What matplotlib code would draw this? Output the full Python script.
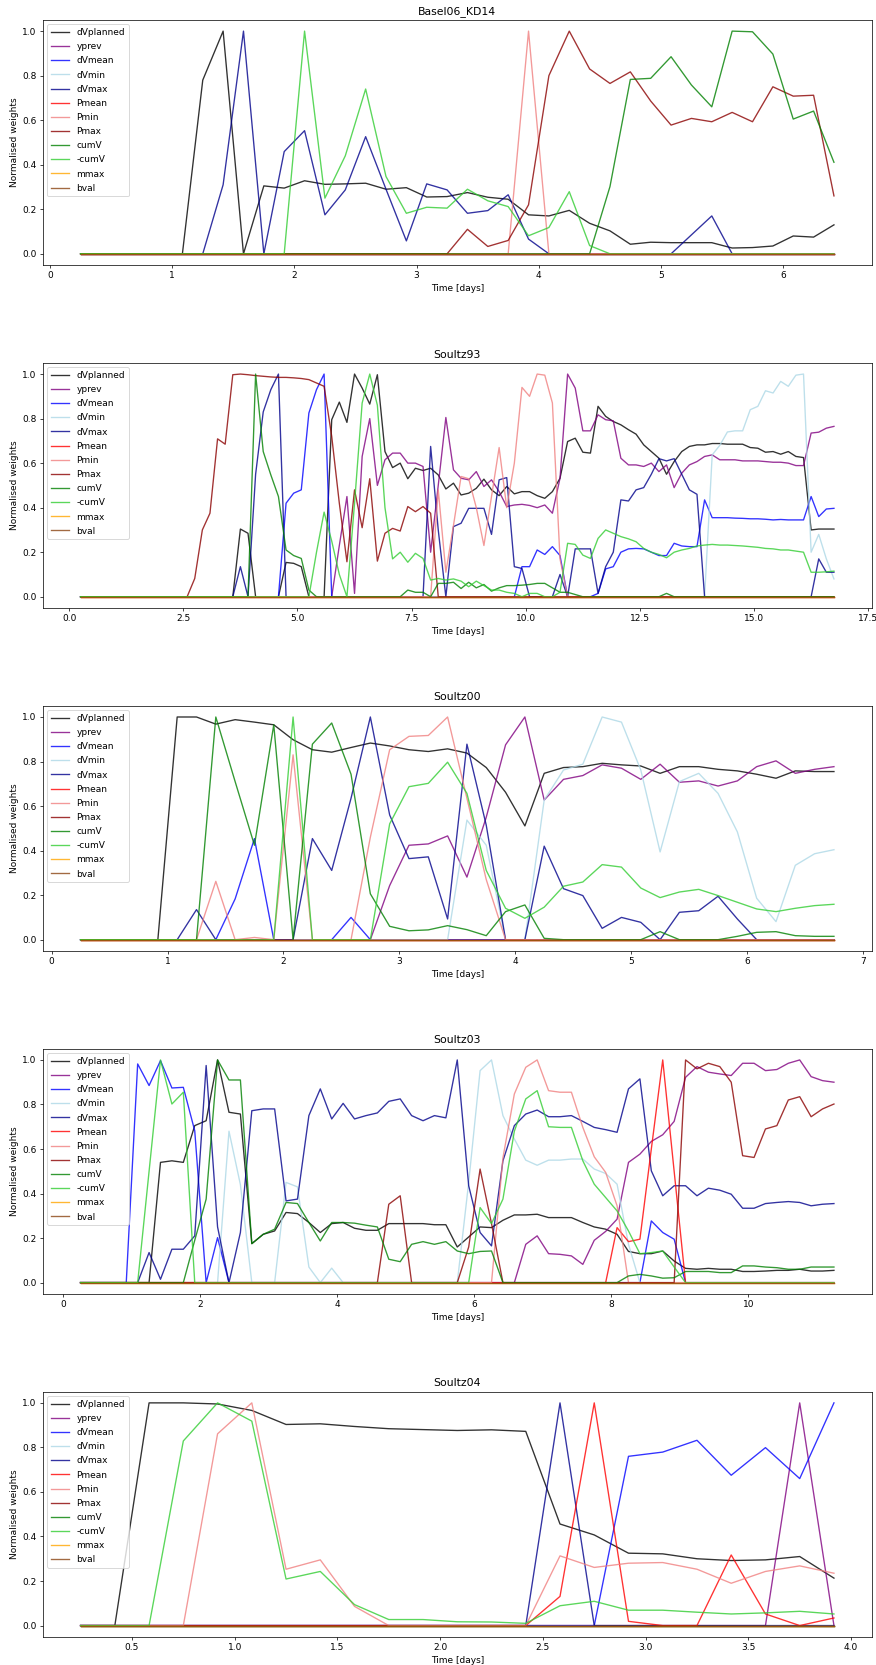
import matplotlib.pyplot as plt
import numpy as np

labels = ['dVplanned', 'yprev', 'dVmean', 'dVmin', 'dVmax', 'Pmean', 'Pmin',
          'Pmax', 'cumV', '-cumV', 'mmax', 'bval']
colors = ['k', 'purple', 'blue', 'lightblue', 'darkblue', 'red', 'lightcoral',
          'darkred', 'green', 'limegreen', 'orange', 'saddlebrown']
titles = ['Basel06_KD14', 'Soultz93', 'Soultz00', 'Soultz03', 'Soultz04']

# weights are sampled every 4 hours starting at 6h
t_start = 0.25
t_step = 1 / 6

# ---- Basel06_KD14 (38 samples)
p1_dvplanned = [0]*6 + [0.78, 1.0, 0.0, 0.305, 0.295, 0.328, 0.312, 0.314, 0.317, 0.29, 0.297, 0.255, 0.257,
                        0.275, 0.254, 0.245, 0.175, 0.17, 0.195, 0.137, 0.103, 0.043, 0.052, 0.05, 0.05, 0.05,
                        0.026, 0.028, 0.035, 0.08, 0.075, 0.13]
p1_yprev = [0]*38
p1_dvmean = [0]*38
p1_dvmin = [0]*38
p1_dvmax = [0]*7 + [0.31, 1.0, 0.0, 0.459, 0.553, 0.175, 0.287, 0.526, 0.29, 0.058, 0.314, 0.287, 0.182,
                    0.194, 0.265, 0.066, 0.0] + [0]*6 + [0.085, 0.17] + [0]*6
p1_pmean = [0]*38
p1_pmin = [0]*22 + [1.0] + [0]*15
p1_pmax = [0]*19 + [0.11, 0.033, 0.06, 0.22, 0.80, 1.0, 0.83, 0.765, 0.817, 0.686, 0.578, 0.608, 0.593,
                    0.635, 0.593, 0.75, 0.708, 0.712, 0.26]
p1_cumv = [0]*26 + [0.302, 0.783, 0.788, 0.885, 0.758, 0.66, 1.0, 0.997, 0.897, 0.605, 0.641, 0.411]
p1_ncumv = [0]*11 + [1.0, 0.25, 0.44, 0.74, 0.347, 0.182, 0.209, 0.205, 0.29, 0.238, 0.212, 0.081, 0.118,
                     0.279, 0.037] + [0]*12
p1_mmax = [0]*38
p1_bval = [0]*38

# ---- Soultz93 (100 samples)
p2_dvplanned = [0]*21 + [0.304, 0.285] + [0]*4 + [0.154, 0.15, 0.135] + [0]*3 + [
    0.795, 0.874, 0.783, 1.0, 0.937, 0.865, 0.997, 0.652, 0.58, 0.60, 0.53, 0.577, 0.567, 0.577, 0.547,
    0.484, 0.51, 0.457, 0.465, 0.487, 0.528, 0.48, 0.454, 0.495, 0.462, 0.472, 0.472, 0.454, 0.442, 0.472,
    0.532, 0.697, 0.712, 0.649, 0.645, 0.855, 0.81, 0.787, 0.772, 0.75, 0.73, 0.682, 0.652, 0.622, 0.55,
    0.607, 0.652, 0.675, 0.682, 0.682, 0.688, 0.688, 0.685, 0.685, 0.685, 0.67, 0.667, 0.649, 0.652, 0.64,
    0.652, 0.63, 0.625, 0.30, 0.304, 0.304, 0.304]
p2_yprev = [0]*34 + [
    0.23, 0.45, 0.015, 0.63, 0.80, 0.50, 0.615, 0.645, 0.645, 0.60, 0.60, 0.585, 0.2, 0.5, 0.805, 0.57,
    0.532, 0.525, 0.562, 0.495, 0.525, 0.472, 0.405, 0.412, 0.415, 0.41, 0.40, 0.412, 0.375, 0.532, 1.0,
    0.937, 0.745, 0.745, 0.817, 0.795, 0.79, 0.622, 0.592, 0.592, 0.585, 0.60, 0.562, 0.592, 0.49, 0.555,
    0.592, 0.607, 0.63, 0.637, 0.615, 0.615, 0.615, 0.61, 0.61, 0.61, 0.607, 0.604, 0.604, 0.60, 0.589,
    0.589, 0.735, 0.739, 0.757, 0.765]
p2_dvmean = [0]*27 + [0.42, 0.465, 0.48, 0.825, 0.93, 1.0] + [0]*25 + [0.135, 0.135, 0.21, 0.19, 0.225, 0.185] + [0]*4 + [
    0.015, 0.125, 0.135, 0.2, 0.215, 0.217, 0.215, 0.2, 0.185, 0.185, 0.24, 0.228, 0.225, 0.225, 0.435,
    0.355, 0.355, 0.355, 0.353, 0.352, 0.35, 0.35, 0.348, 0.345, 0.347, 0.345, 0.345, 0.345, 0.45, 0.36,
    0.394, 0.397]
p2_dvmin = [0]*83 + [0.637, 0.68, 0.74, 0.745, 0.745, 0.84, 0.855, 0.925, 0.915, 0.967, 0.945, 0.995, 1.0,
                     0.2, 0.28, 0.17, 0.08]
p2_dvmax = [0]*21 + [0.135, 0.0, 0.55, 0.83, 0.93, 1.0] + [0]*19 + [
    0.675, 0.3, 0.0, 0.315, 0.33, 0.397, 0.397, 0.397, 0.28, 0.525, 0.535, 0.135, 0.127, 0, 0, 0, 0, 0.1, 0,
    0.215, 0.215, 0.215, 0.015, 0.135, 0.2, 0.435, 0.43, 0.48, 0.49, 0.55, 0.62, 0.61, 0.62, 0.55, 0.48,
    0.46] + [0]*15 + [0.17, 0.11, 0.11]
p2_pmean = [0]*100
p2_pmin = [0]*47 + [0.48, 0.11, 0.32, 0.54, 0.53, 0.40, 0.23, 0.45, 0.67, 0.40, 0.60, 0.94, 0.90, 1.0,
                    0.995, 0.87, 0.17] + [0]*36
p2_pmax = [0]*15 + [
    0.082, 0.30, 0.375, 0.709, 0.685, 0.997, 1.0, 0.997, 0.993, 0.99, 0.987, 0.985, 0.985, 0.983, 0.98,
    0.975, 0.96, 0.945, 0.72, 0.42, 0.157, 0.48, 0.31, 0.53, 0.16, 0.285, 0.307, 0.295, 0.405, 0.382,
    0.405, 0.375] + [0]*53
p2_cumv = [0]*23 + [1.0, 0.652, 0.547, 0.45, 0.21, 0.185, 0.172, 0.03] + [0]*12 + [
    0.03, 0.02, 0.02, 0.0, 0.06, 0.06, 0.065, 0.037, 0.065, 0.04, 0.055, 0.025, 0.04, 0.05, 0.05, 0.052,
    0.055, 0.06, 0.06, 0.04, 0.02, 0.02, 0.01] + [0]*11 + [0.015] + [0]*22
p2_ncumv = [0]*31 + [
    0.2, 0.38, 0.25, 0.1, 0.0, 0.42, 0.87, 1.0, 0.86, 0.4, 0.17, 0.2, 0.155, 0.195, 0.172, 0.075, 0.082,
    0.075, 0.08, 0.07, 0.045, 0.07, 0.05, 0.03, 0.03, 0.02, 0.015, 0.0, 0.015, 0.015, 0.0, 0.0, 0.02, 0.24,
    0.235, 0.187, 0.172, 0.262, 0.30, 0.285, 0.27, 0.26, 0.247, 0.217, 0.2, 0.19, 0.175, 0.2, 0.21, 0.217,
    0.228, 0.232, 0.235, 0.232, 0.232, 0.23, 0.228, 0.225, 0.222, 0.217, 0.215, 0.21, 0.21, 0.205, 0.2,
    0.11, 0.11, 0.112, 0.115]
p2_mmax = [0]*100
p2_bval = [0]*100

# ---- Soultz00 (40 samples)
p3_dvplanned = [0]*5 + [1.0, 1.0, 0.968, 0.988, 0.977, 0.965, 0.898, 0.853, 0.842, 0.863, 0.883, 0.87, 0.853,
                        0.845, 0.857, 0.838, 0.773, 0.662, 0.511, 0.747, 0.773, 0.777, 0.792, 0.785, 0.78,
                        0.747, 0.777, 0.777, 0.765, 0.758, 0.743, 0.725, 0.758, 0.755, 0.755]
p3_yprev = [0]*16 + [0.243, 0.424, 0.43, 0.466, 0.281, 0.55, 0.875, 1.0, 0.627, 0.72, 0.737, 0.785, 0.77,
                     0.72, 0.788, 0.707, 0.713, 0.69, 0.713, 0.777, 0.803, 0.747, 0.765, 0.777]
p3_dvmean = [0]*8 + [0.183, 0.454] + [0]*4 + [0.1] + [0]*25
p3_dvmin = [0]*20 + [0.537, 0.424, 0.0, 0.0, 0.627, 0.762, 0.788, 1.0, 0.977, 0.762, 0.394, 0.71, 0.747,
                     0.657, 0.484, 0.186, 0.081, 0.334, 0.386, 0.404]
p3_dvmax = [0]*6 + [0.135] + [0]*5 + [0.454, 0.311, 0.635, 1.0, 0.56, 0.364, 0.372, 0.093, 0.878, 0.514,
                                      0.0, 0.0, 0.42, 0.229, 0.198, 0.051, 0.1, 0.078, 0.0, 0.123, 0.13,
                                      0.195, 0.093] + [0]*5
p3_pmean = [0]*40
p3_pmin = [0]*7 + [0.262, 0.0, 0.01, 0.0, 0.83] + [0]*3 + [0.46, 0.853, 0.913, 0.917, 1.0, 0.635, 0.27] + [0]*18
p3_pmax = [0]*40
p3_cumv = [0]*7 + [1.0, 0.71, 0.424, 0.965, 0.0, 0.878, 0.973, 0.743, 0.206, 0.06, 0.04, 0.044, 0.063,
                   0.045, 0.018, 0.126, 0.156, 0.006] + [0]*5 + [0.036] + [0]*3 + [0.015, 0.033, 0.036,
                                                                               0.018, 0.015, 0.015]
p3_ncumv = [0]*11 + [1.0] + [0]*4 + [0.52, 0.687, 0.702, 0.797, 0.657, 0.311, 0.141, 0.096, 0.146, 0.24,
                                     0.259, 0.337, 0.326, 0.232, 0.189, 0.214, 0.226, 0.198, 0.168, 0.138,
                                     0.126, 0.141, 0.153, 0.159]
p3_mmax = [0]*40
p3_bval = [0]*40

# ---- Soultz03 (67 samples)
p4_dvplanned = [0]*7 + [
    0.54, 0.547, 0.54, 0.705, 0.727, 1.0, 0.765, 0.757, 0.175, 0.217, 0.232, 0.315, 0.31, 0.27, 0.225,
    0.265, 0.27, 0.244, 0.235, 0.235, 0.265, 0.265, 0.265, 0.265, 0.26, 0.26, 0.16, 0.205, 0.25, 0.247,
    0.28, 0.304, 0.304, 0.307, 0.292, 0.292, 0.292, 0.27, 0.25, 0.24, 0.217, 0.14, 0.13, 0.13, 0.142,
    0.097, 0.064, 0.06, 0.064, 0.06, 0.06, 0.05, 0.05, 0.052, 0.055, 0.055, 0.06, 0.052, 0.052, 0.055]
p4_yprev = [0]*39 + [0.172, 0.21, 0.13, 0.127, 0.12, 0.082, 0.19, 0.23, 0.285, 0.54, 0.577, 0.634, 0.664,
                     0.724, 0.922, 0.97, 0.945, 0.937, 0.93, 0.985, 0.985, 0.952, 0.957, 0.985, 1.0, 0.925,
                     0.907, 0.9]
p4_dvmean = [0]*5 + [0.982, 0.885, 0.997, 0.874, 0.877, 0.682, 0.0, 0.202] + [0]*37 + [0.277, 0.225, 0.195] + [0]*14
p4_dvmin = [0]*13 + [0.68, 0.44, 0, 0, 0, 0.45, 0.43, 0.07, 0, 0.065] + [0]*11 + [
    0.45, 0.952, 1.0, 0.75, 0.645, 0.55, 0.527, 0.55, 0.55, 0.555, 0.555, 0.51, 0.49, 0.442, 0.172] + [0]*18
p4_dvmax = [0]*6 + [
    0.135, 0.015, 0.15, 0.15, 0.21, 0.975, 0.25, 0.0, 0.225, 0.772, 0.78, 0.78, 0.367, 0.375, 0.75, 0.87,
    0.735, 0.805, 0.735, 0.75, 0.762, 0.814, 0.825, 0.75, 0.727, 0.75, 0.74, 1.0, 0.435, 0.225, 0.165,
    0.547, 0.705, 0.757, 0.775, 0.745, 0.745, 0.75, 0.724, 0.697, 0.687, 0.675, 0.87, 0.915, 0.502, 0.39,
    0.435, 0.435, 0.39, 0.424, 0.415, 0.397, 0.334, 0.334, 0.355, 0.36, 0.364, 0.36, 0.345, 0.352, 0.355]
p4_pmean = [0]*47 + [0.247, 0.184, 0.195, 0.6, 1.0, 0.5] + [0]*14
p4_pmin = [0]*37 + [0.56, 0.847, 0.967, 1.0, 0.862, 0.855, 0.855, 0.697, 0.565, 0.495, 0.345] + [0]*19
p4_pmax = [0]*27 + [0.352, 0.39] + [0]*5 + [0.16, 0.51, 0.265] + [0]*16 + [
    1.0, 0.96, 0.985, 0.97, 0.9, 0.57, 0.562, 0.69, 0.705, 0.82, 0.835, 0.745, 0.78, 0.802]
p4_cumv = [0]*10 + [
    0.19, 0.375, 1.0, 0.91, 0.91, 0.175, 0.217, 0.24, 0.36, 0.355, 0.27, 0.187, 0.27, 0.27, 0.267, 0.258,
    0.25, 0.105, 0.094, 0.172, 0.184, 0.172, 0.184, 0.142, 0.13, 0.14, 0.142] + [0]*11 + [
    0.03, 0.037, 0.03, 0.02, 0.022, 0.05, 0.05, 0.05, 0.045, 0.045, 0.075, 0.075, 0.07, 0.067, 0.06, 0.06,
    0.07, 0.07, 0.07]
p4_ncumv = [0]*6 + [0.5, 1.0, 0.802, 0.855] + [0]*25 + [
    0.337, 0.265, 0.375, 0.68, 0.825, 0.862, 0.7, 0.697, 0.697, 0.547, 0.442, 0.382, 0.322, 0.232, 0.13,
    0.135, 0.142, 0.07] + [0]*14
p4_mmax = [0]*67
p4_bval = [0]*67

# ---- Soultz04 (23 samples)
p5_dvplanned = [0, 0, 1.0, 1.0, 0.995, 0.966, 0.903, 0.906, 0.894, 0.884, 0.88, 0.876, 0.879, 0.872, 0.456,
                0.407, 0.325, 0.322, 0.30, 0.292, 0.295, 0.31, 0.213]
p5_yprev = [0]*21 + [1.0, 0]
p5_dvmean = [0]*16 + [0.76, 0.779, 0.832, 0.675, 0.799, 0.66, 1.0]
p5_dvmin = [0]*23
p5_dvmax = [0]*14 + [1.0] + [0]*8
p5_pmean = [0]*14 + [0.131, 1.0, 0.019, 0, 0, 0.317, 0.052, 0, 0.034]
p5_pmin = [0]*4 + [0.861, 1.0, 0.253, 0.295, 0.086] + [0]*5 + [0.313, 0.261, 0.28, 0.283, 0.253, 0.19, 0.243,
                                                               0.268, 0.235]
p5_pmax = [0]*23
p5_cumv = [0]*23
p5_ncumv = [0, 0, 0, 0.829, 1.0, 0.918, 0.209, 0.243, 0.094, 0.027, 0.027, 0.017, 0.016, 0.01, 0.089,
            0.109, 0.069, 0.069, 0.06, 0.052, 0.057, 0.064, 0.052]
p5_mmax = [0]*23
p5_bval = [0]*23

panels = [
    [p1_dvplanned, p1_yprev, p1_dvmean, p1_dvmin, p1_dvmax, p1_pmean, p1_pmin, p1_pmax, p1_cumv, p1_ncumv, p1_mmax, p1_bval],
    [p2_dvplanned, p2_yprev, p2_dvmean, p2_dvmin, p2_dvmax, p2_pmean, p2_pmin, p2_pmax, p2_cumv, p2_ncumv, p2_mmax, p2_bval],
    [p3_dvplanned, p3_yprev, p3_dvmean, p3_dvmin, p3_dvmax, p3_pmean, p3_pmin, p3_pmax, p3_cumv, p3_ncumv, p3_mmax, p3_bval],
    [p4_dvplanned, p4_yprev, p4_dvmean, p4_dvmin, p4_dvmax, p4_pmean, p4_pmin, p4_pmax, p4_cumv, p4_ncumv, p4_mmax, p4_bval],
    [p5_dvplanned, p5_yprev, p5_dvmean, p5_dvmin, p5_dvmax, p5_pmean, p5_pmin, p5_pmax, p5_cumv, p5_ncumv, p5_mmax, p5_bval],
]


def plot_weights(ax, title, series):
  n = len(series[0])
  for s, lab in zip(series, labels):
    assert len(s) == n, (title, lab, len(s), n)
  t = t_start + t_step * np.arange(n)
  for values, lab, col in zip(series, labels, colors):
    ax.plot(t, values, color=col, alpha=0.8, lw=1.5, label=lab)
  ax.legend(loc='upper left', labelspacing=0.57)
  ax.set_xlabel('Time [days]')
  ax.set_ylabel('Normalised weights')
  ax.set_title(title)


dpi = 65
fig, axes = plt.subplots(5, 1, figsize=(876 / dpi, 1665 / dpi), dpi=dpi)
for ax, title, series in zip(axes, titles, panels):
  plot_weights(ax, title, series)

plt.subplots_adjust(left=0.049, right=0.995, top=0.988, bottom=0.017, hspace=0.4)
plt.savefig('out.png', dpi=dpi)
